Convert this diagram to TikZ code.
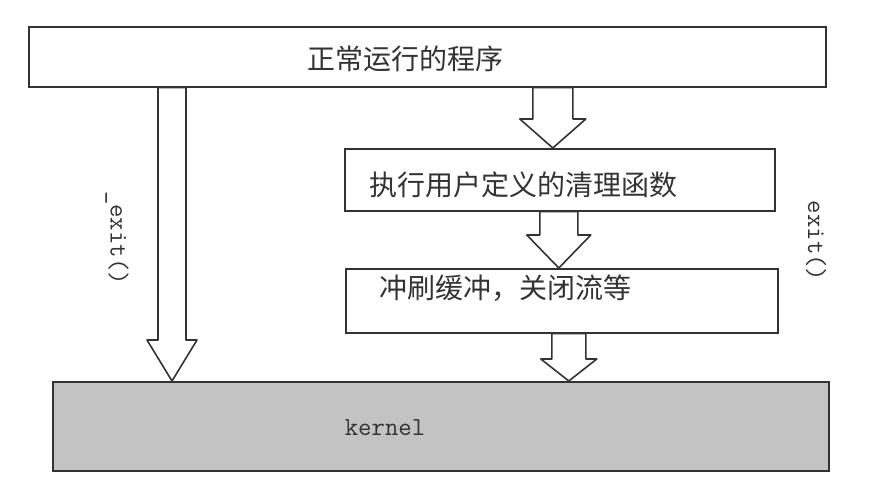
\documentclass[tikz,border=0pt]{standalone}
\usepackage{fontspec}
\usepackage{tikz}
\usetikzlibrary{calc}
\newfontfamily\cjk{Noto Sans CJK SC}
\definecolor{inkgray}{HTML}{333333}
\definecolor{kernelfill}{HTML}{C3C3C3}

\begin{document}
\begin{tikzpicture}[
  x=1pt, y=-1pt,
  box/.style={rectangle, draw=inkgray, line width=1.6pt, inner sep=0pt, anchor=north west},
  cnlabel/.style={font=\cjk\fontsize{28}{30}\selectfont, text=inkgray, inner sep=0pt, anchor=west},
  codelabel/.style={font=\ttfamily\fontsize{26}{28}\selectfont, text=inkgray, inner sep=0pt},
  barrow/.style n args={3}{draw=inkgray, fill=white, line width=1.6pt, line join=round,
    to path={let \p1=(\tikztostart), \p2=(\tikztotarget) in
      (\x2-#1,\y1) -- (\x2-#1,\y2+#3) -- (\x2-#2,\y2+#3) -- (\x2,\y2)
      -- (\x2+#2,\y2+#3) -- (\x2+#1,\y2+#3) -- (\x2+#1,\y1) -- cycle}}
]
\useasboundingbox (0,0) rectangle (886,492);

% Boxes
\node[box, minimum width=797pt, minimum height=60pt] (prog) at (28,26) {};
\node[box, minimum width=430pt, minimum height=62pt] (clean) at (344,148) {};
\node[box, minimum width=432pt, minimum height=64pt] (flush) at (345,268) {};
\node[box, fill=kernelfill, minimum width=776pt, minimum height=89pt] (kernel) at (52,381) {};

% Box texts
\node[cnlabel] (progtext) at (307,59) {正常运行的程序};
\node[cnlabel] (cleantext) at (369,185) {执行用户定义的清理函数};
\node[cnlabel] (flushtext) at (379,288) {冲刷缓冲，关闭流等};
\node[codelabel] (kerneltext) at (385,428) {kernel};

% Block arrows
\draw[barrow={14pt}{25pt}{41pt}] (prog.south) to ([xshift=120pt]kernel.north west);
\draw[barrow={20pt}{33pt}{29pt}] (prog.south) to ([xshift=-7pt]clean.north);
\draw[barrow={19pt}{32pt}{33pt}] (clean.south) to ([xshift=-3pt]flush.north);
\draw[barrow={17pt}{28pt}{22pt}] (flush.south) to ([xshift=128pt]kernel.north);

% Side labels
\node[codelabel, rotate=-90] (exitleft) at (117,238) {\_exit()};
\node[codelabel, rotate=-90] (exitright) at (816,241) {exit()};
\end{tikzpicture}
\end{document}
